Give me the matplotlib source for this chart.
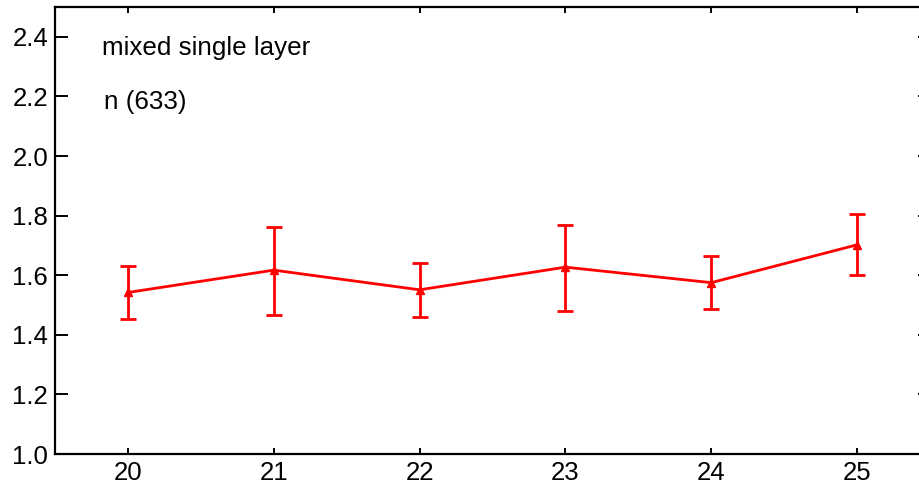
import matplotlib.pyplot as plt

plt.rcParams['font.family'] = ['Liberation Sans', 'DejaVu Sans']

# data
temps = [20, 21, 22, 23, 24, 25]
ratio = [1.542, 1.617, 1.551, 1.627, 1.575, 1.702]
err_low = [0.090, 0.149, 0.090, 0.146, 0.088, 0.101]
err_high = [0.088, 0.146, 0.089, 0.143, 0.088, 0.102]
yticks = [1.0, 1.2, 1.4, 1.6, 1.8, 2.0, 2.2, 2.4]

fig = plt.figure(figsize=(9.2, 4.91), dpi=100)
ax = fig.add_axes([55 / 920, 37 / 491, 875 / 920, 447 / 491])

ax.errorbar(temps, ratio, yerr=[err_low, err_high], color='#ff0000',
            lw=2, marker='^', ms=6, capsize=6, capthick=2, elinewidth=2)

ax.set_xlim(19.5, 25.5)
ax.set_ylim(1.0, 2.5)
ax.set_xticks(temps)
ax.set_yticks(yticks)
ax.set_yticklabels(['%.1f' % v for v in yticks])

for s in ax.spines.values():
    s.set_linewidth(1.6)
ax.tick_params(axis='y', direction='in', length=9, width=1.4, right=True,
               labelsize=18.5, pad=5)
ax.tick_params(axis='x', direction='in', length=4, width=1.4, top=True,
               labelsize=18.5, pad=5)

ax.text(0.054, 0.908, 'mixed single layer', transform=ax.transAxes,
        fontsize=18.7, va='center')
ax.text(0.056, 0.787, 'n (633)', transform=ax.transAxes,
        fontsize=18.7, va='center')

fig.savefig('out.png', dpi=100)
